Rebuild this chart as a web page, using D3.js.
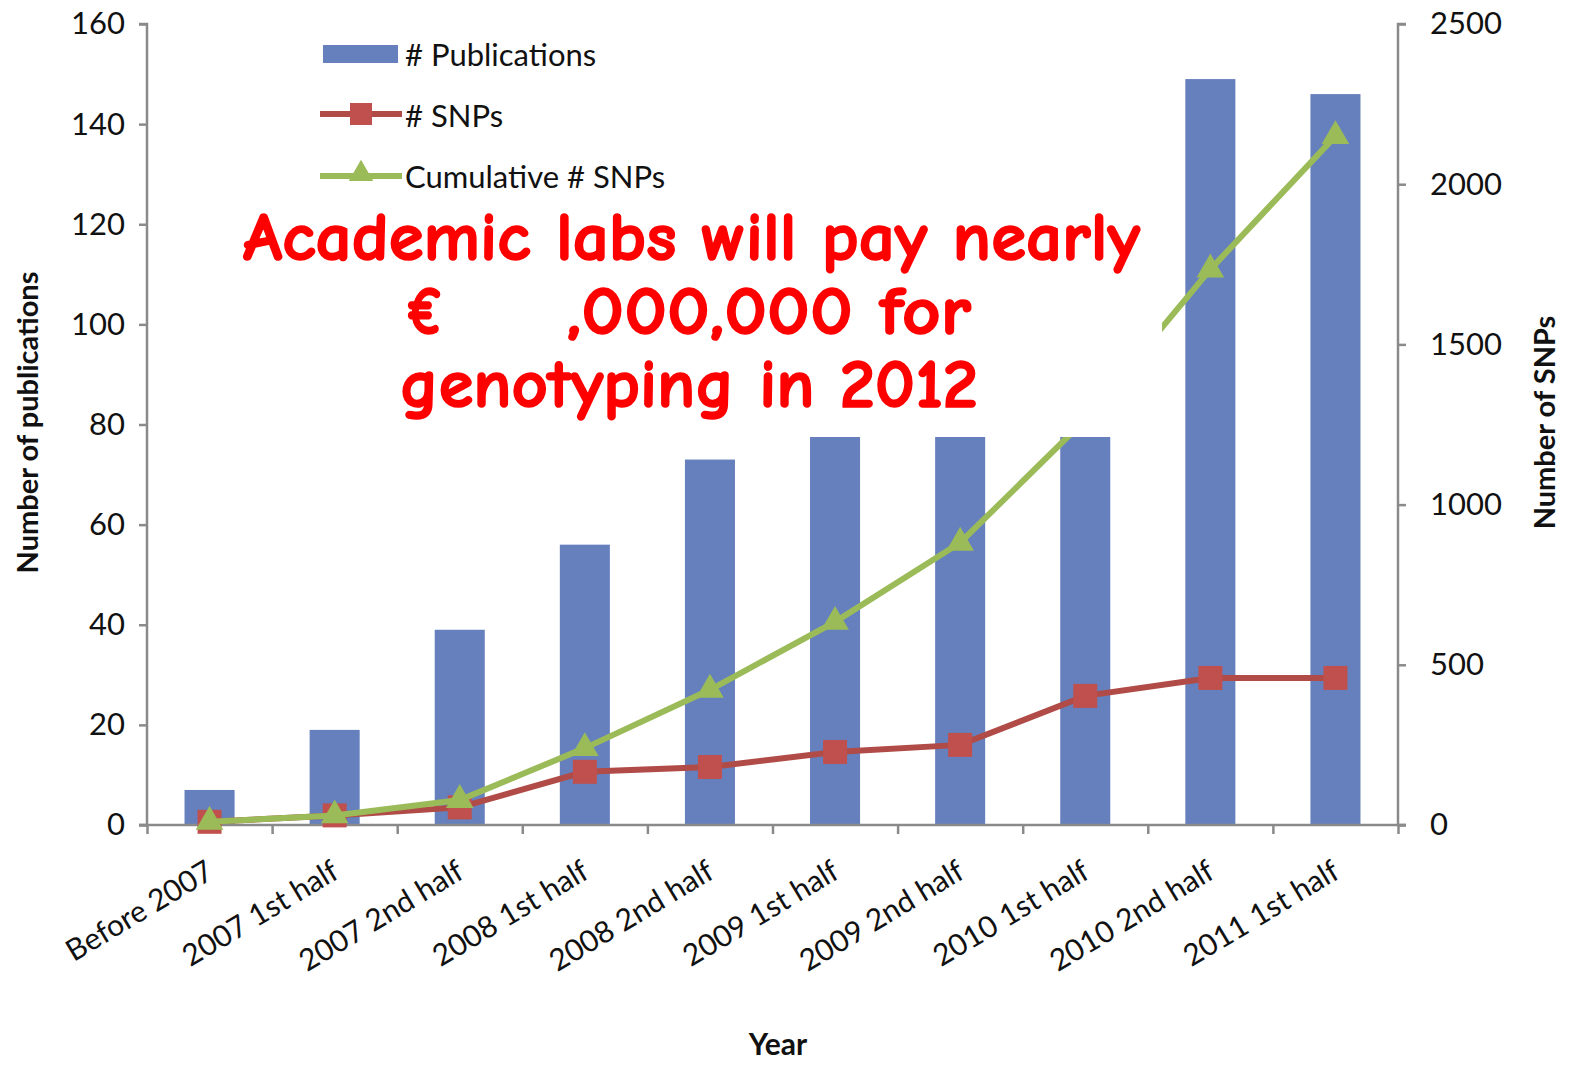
<!DOCTYPE html>
<html>
<head>
<meta charset="utf-8">
<script src="https://cdn.jsdelivr.net/npm/d3@7"></script>
<style>
  html, body { margin: 0; padding: 0; background: #fff; }
  svg { display: block; }
</style>
</head>
<body>
<div id="chart"></div>
<script>
const categories = ["Before 2007", "2007 1st half", "2007 2nd half", "2008 1st half", "2008 2nd half",
                    "2009 1st half", "2009 2nd half", "2010 1st half", "2010 2nd half", "2011 1st half"];
// number of publications (left axis); 2009-2010 bars partly hidden behind the banner
const publications = [7, 19, 39, 56, 73, 95, 100, 118, 149, 146];
// number of SNPs (right axis)
const snps = [10, 30, 55, 166, 181, 228, 250, 403, 459, 459];
const cumulativeSnps = [10, 30, 78, 240, 422, 634, 881, 1265, 1734, 2150];
const leftTicks = [0, 20, 40, 60, 80, 100, 120, 140, 160];
const rightTicks = [0, 500, 1000, 1500, 2000, 2500];

const width = 1587, height = 1070;
const plot = { left: 147, right: 1398, top: 24, bottom: 825 };

const svg = d3.select("#chart").append("svg")
    .attr("width", width)
    .attr("height", height);

const x = d3.scaleBand().domain(categories)
    .range([plot.left, plot.right])
    .paddingInner(0.6).paddingOuter(0.3);
const xEdges = d3.scaleLinear().domain([0, categories.length]).range([plot.left, plot.right]);
const yLeft = d3.scaleLinear().domain([0, 160]).range([plot.bottom, plot.top]);
const yRight = d3.scaleLinear().domain([0, 2500]).range([plot.bottom, plot.top]);
const cx = d => x(d) + x.bandwidth() / 2;

const axisColor = "#8a8a8a";
const tickFont = "Lato, 'Open Sans', sans-serif";

// bars
svg.append("g").selectAll("rect")
    .data(categories)
    .enter().append("rect")
    .attr("x", d => x(d))
    .attr("y", (d, i) => yLeft(publications[i]))
    .attr("width", x.bandwidth())
    .attr("height", (d, i) => yLeft(0) - yLeft(publications[i]))
    .attr("fill", "#6580bd");

// axes
const gl = svg.append("g").attr("transform", `translate(${plot.left},0)`)
    .call(d3.axisLeft(yLeft).tickValues(leftTicks).tickSize(8).tickPadding(14));
const gr = svg.append("g").attr("transform", `translate(${plot.right},0)`)
    .call(d3.axisRight(yRight).tickValues(rightTicks).tickFormat(d3.format("d")).tickSize(8).tickPadding(24));
const gb = svg.append("g").attr("transform", `translate(0,${plot.bottom})`)
    .call(d3.axisBottom(xEdges).tickValues(d3.range(categories.length + 1)).tickSize(9).tickFormat(""));

[gl, gr, gb].forEach(g => {
    g.selectAll("path.domain").attr("stroke", axisColor).attr("stroke-width", 2.5);
    g.selectAll(".tick line").attr("stroke", axisColor).attr("stroke-width", 2.5);
    g.selectAll(".tick text").attr("font-family", tickFont).attr("font-size", 31).attr("fill", "#111");
});
gl.select("path.domain").attr("d", `M-8,${plot.top}H0V${plot.bottom}H-8`);
gr.select("path.domain").attr("d", `M8,${plot.top}H0V${plot.bottom}H8`);
gb.select("path.domain").attr("d", `M${plot.left - 8},0H${plot.right + 8}`);

// rotated category labels
svg.append("g").selectAll("text")
    .data(categories)
    .enter().append("text")
    .attr("transform", d => `translate(${cx(d) + 6},${plot.bottom + 52}) rotate(-31)`)
    .attr("text-anchor", "end")
    .attr("font-family", tickFont)
    .attr("font-size", 30)
    .attr("fill", "#111")
    .text(d => d);

// axis titles
svg.append("text")
    .attr("transform", `translate(38,${(plot.top + plot.bottom) / 2 - 2}) rotate(-90)`)
    .attr("text-anchor", "middle")
    .attr("font-family", tickFont).attr("font-weight", "bold").attr("font-size", 29)
    .attr("fill", "#111")
    .text("Number of publications");
svg.append("text")
    .attr("transform", `translate(1555,${(plot.top + plot.bottom) / 2 - 2}) rotate(-90)`)
    .attr("text-anchor", "middle")
    .attr("font-family", tickFont).attr("font-weight", "bold").attr("font-size", 29)
    .attr("fill", "#111")
    .text("Number of SNPs");
svg.append("text")
    .attr("x", 778).attr("y", 1055)
    .attr("text-anchor", "middle")
    .attr("font-family", tickFont).attr("font-weight", "bold").attr("font-size", 30)
    .attr("fill", "#111")
    .text("Year");

// lines
const redLine = "#b04b47", redMark = "#c0504d";
const greenLine = "#9bbb59", greenMark = "#9bbb59";

const line = vals => d3.line()
    .x((d, i) => cx(categories[i]))
    .y((d, i) => yRight(vals[i]))(vals);

svg.append("path").attr("d", line(snps))
    .attr("fill", "none").attr("stroke", redLine).attr("stroke-width", 6);
svg.append("g").selectAll("rect")
    .data(snps).enter().append("rect")
    .attr("x", (d, i) => cx(categories[i]) - 12)
    .attr("y", d => yRight(d) - 12)
    .attr("width", 24).attr("height", 24)
    .attr("fill", redMark);

const tri = d3.symbol().type(d3.symbolTriangle).size(330);
svg.append("path").attr("d", line(cumulativeSnps))
    .attr("fill", "none").attr("stroke", greenLine).attr("stroke-width", 6);
svg.append("g").selectAll("path")
    .data(cumulativeSnps).enter().append("path")
    .attr("d", tri)
    .attr("transform", (d, i) => `translate(${cx(categories[i])},${yRight(d)})`)
    .attr("fill", greenMark);

// legend
const legend = svg.append("g").attr("font-family", tickFont).attr("font-size", 31).attr("fill", "#111");
legend.append("rect").attr("x", 323).attr("y", 45).attr("width", 75).attr("height", 18).attr("fill", "#6580bd");
legend.append("text").attr("x", 405).attr("y", 66).text("# Publications");
legend.append("line").attr("x1", 320).attr("x2", 402).attr("y1", 114).attr("y2", 114)
    .attr("stroke", redLine).attr("stroke-width", 6);
legend.append("rect").attr("x", 350).attr("y", 103).attr("width", 22).attr("height", 22).attr("fill", redMark);
legend.append("text").attr("x", 405).attr("y", 127).text("# SNPs");
legend.append("line").attr("x1", 320).attr("x2", 402).attr("y1", 176).attr("y2", 176)
    .attr("stroke", greenLine).attr("stroke-width", 6);
legend.append("path").attr("d", d3.symbol().type(d3.symbolTriangle).size(260))
    .attr("transform", "translate(361,174)").attr("fill", greenMark);
legend.append("text").attr("x", 405).attr("y", 188).text("Cumulative # SNPs");

// white banner with red announcement
svg.append("rect").attr("x", 232).attr("y", 192).attr("width", 930).attr("height", 245).attr("fill", "#fff");
const red = svg.append("g")
    .attr("font-family", "'Comic Sans MS', 'Comic Neue', 'DejaVu Sans', sans-serif")
    .attr("font-weight", "bold")
    .attr("font-size", 68)
    .attr("fill", "#ff0000")
    .attr("stroke", "#ff0000")
    .attr("stroke-width", 1.6);
red.append("text").attr("x", 243).attr("y", 260)
    .attr("textLength", 897).attr("lengthAdjust", "spacingAndGlyphs")
    .text("Academic labs will pay nearly");
red.append("text").attr("x", 405).attr("y", 334)
    .attr("textLength", 40).attr("lengthAdjust", "spacingAndGlyphs")
    .text("€");
red.append("text").attr("x", 567).attr("y", 334)
    .attr("textLength", 404).attr("lengthAdjust", "spacingAndGlyphs")
    .text(",000,000 for");
red.append("text").attr("x", 400).attr("y", 407)
    .attr("textLength", 578).attr("lengthAdjust", "spacingAndGlyphs")
    .text("genotyping in 2012");
</script>
</body>
</html>
